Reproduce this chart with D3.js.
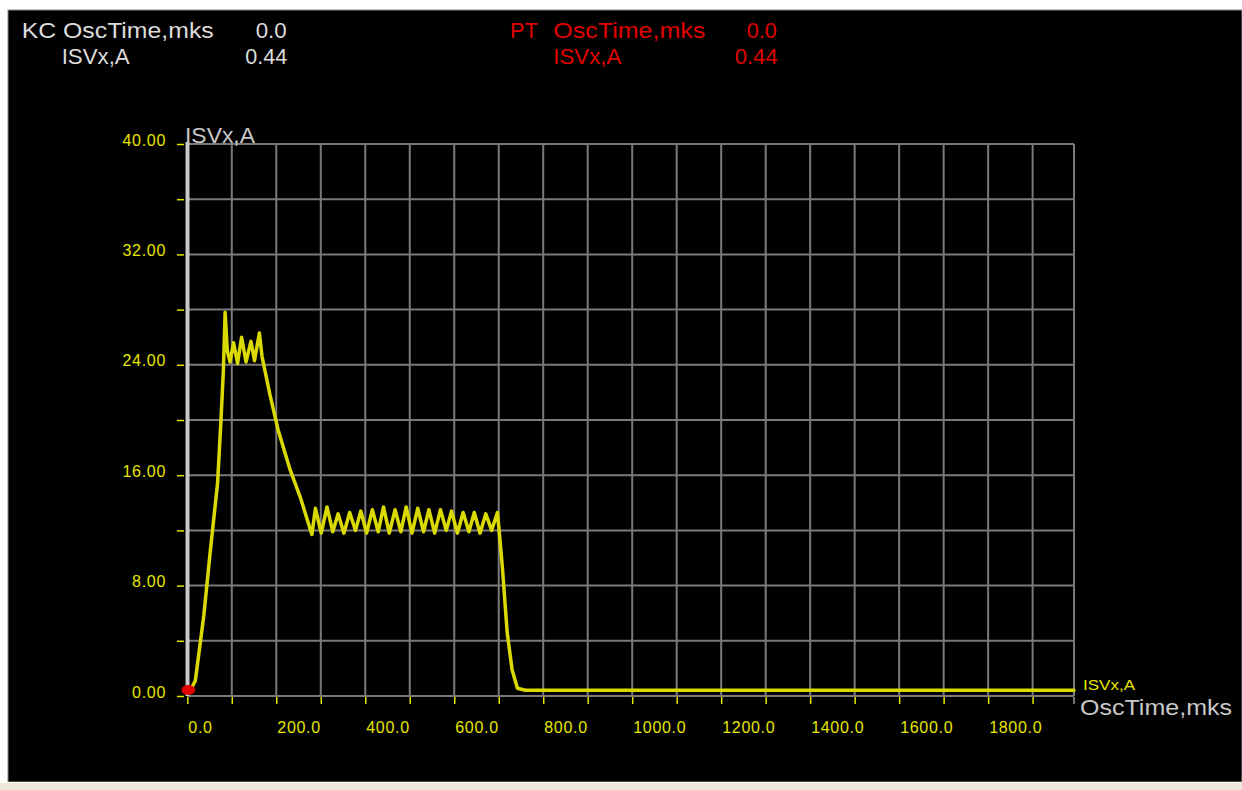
<!DOCTYPE html>
<html>
<head>
<meta charset="utf-8">
<script src="https://cdn.jsdelivr.net/npm/d3@7"></script>
<style>
  body { margin: 0; background: #fff; }
  svg { display: block; }
  .tick-lbl { font-family: "Liberation Sans", Arial, sans-serif; font-size: 16px; letter-spacing: 0.7px; fill: #e6e600; }
</style>
</head>
<body>
<div class="container"></div>
<script>
// oscillogram samples
const timeUs = [0, 8, 18, 37, 52, 68, 76, 81, 85, 90, 96, 104, 113, 122, 132, 143, 151, 162, 168,
  186, 204, 231, 254, 280,
  288, 301, 314, 327, 339, 352, 365, 378, 390, 403, 416, 429, 441, 454, 467, 480, 492, 505,
  518, 531, 543, 556, 569, 582, 594, 607, 620, 633, 645, 658, 671, 684, 697,
  700, 708, 719, 730, 742, 760, 1993];
const currentA = [0.44, 0.5, 1.1, 5.8, 10.6, 15.4, 20.2, 23.5, 27.8, 25.0, 24.2, 25.6, 24.1, 26.0, 24.2, 25.7, 24.3, 26.3, 24.6,
  21.8, 19.3, 16.4, 14.4, 11.7,
  13.6, 11.8, 13.7, 11.9, 13.2, 11.8, 13.3, 12.0, 13.4, 11.8, 13.5, 11.9, 13.7, 11.8, 13.5, 11.9, 13.7, 11.8,
  13.6, 11.9, 13.5, 11.8, 13.5, 12.0, 13.4, 11.8, 13.3, 11.9, 13.3, 11.8, 13.2, 12.0, 13.3,
  12.3, 9.4, 4.6, 1.9, 0.56, 0.42, 0.42];

const yTicks = [0, 8, 16, 24, 32, 40];
const yGrid = [4, 8, 12, 16, 20, 24, 28, 32, 36, 40];
const xTicks = [0, 100, 200, 300, 400, 500, 600, 700, 800, 900, 1000, 1100, 1200, 1300, 1400, 1500, 1600, 1700, 1800, 1900];
const xLabels = [0, 200, 400, 600, 800, 1000, 1200, 1400, 1600, 1800];
const xMax = 1993;

const cursorKC = { time: "0.0", value: "0.44" };
const cursorPT = { time: "0.0", value: "0.44" };

const W = 1242, H = 790;
const gridColor = "#7a7a7a";
const yellow = "#e6e600";
const lineYellow = "#dada00";
const font = '"Liberation Sans", Arial, sans-serif';

const svg = d3.select(".container").append("svg").attr("width", W).attr("height", H);

// window frame
svg.append("rect").attr("x", 0).attr("y", 0).attr("width", W).attr("height", H).attr("fill", "#fff");
svg.append("rect").attr("x", 8).attr("y", 10).attr("width", W - 8).attr("height", 772)
  .attr("fill", "#000").attr("stroke", "#8a8a8a").attr("stroke-width", 1);
svg.append("rect").attr("x", 0).attr("y", 782).attr("width", W).attr("height", 8).attr("fill", "#ece9d8");
svg.append("line").attr("x1", 0).attr("x2", W).attr("y1", 782.5).attr("y2", 782.5).attr("stroke", "#fbfaf5");

const x = d3.scaleLinear().domain([0, xMax]).range([187.3, 1074]);
const y = d3.scaleLinear().domain([0, 40]).range([696, 144]);

// grid
const grid = svg.append("g").attr("stroke", gridColor).attr("stroke-width", 2);
grid.selectAll("line.h").data(yGrid).enter().append("line").attr("class", "h")
  .attr("x1", x(0)).attr("x2", x(xMax)).attr("y1", d => y(d)).attr("y2", d => y(d));
grid.selectAll("line.v").data(xTicks.slice(1).concat([xMax])).enter().append("line").attr("class", "v")
  .attr("x1", d => x(d)).attr("x2", d => x(d)).attr("y1", y(40)).attr("y2", y(0));
grid.append("line").attr("x1", x(0)).attr("x2", x(xMax)).attr("y1", y(0)).attr("y2", y(0));

// y axis: ticks at grid lines, labels every 8
const yAxisTicks = svg.append("g").attr("transform", "translate(184,0)")
  .call(d3.axisLeft(y).tickValues([0].concat(yGrid)).tickSize(7).tickSizeOuter(0).tickFormat(""));
yAxisTicks.select(".domain").remove();
yAxisTicks.selectAll(".tick line").attr("stroke", yellow).attr("stroke-width", 1.5);

svg.append("g").selectAll("text").data(yTicks).enter().append("text")
  .attr("class", "tick-lbl")
  .attr("x", 166).attr("y", d => y(d) + 1.5)
  .attr("text-anchor", "end")
  .text(d => d.toFixed(2));

// x axis ticks below axis
const xAxisTicks = svg.append("g").attr("transform", "translate(0,697)")
  .call(d3.axisBottom(x).tickValues(xTicks).tickSize(7).tickSizeOuter(0).tickFormat(""));
xAxisTicks.select(".domain").remove();
xAxisTicks.selectAll(".tick line").attr("stroke", yellow).attr("stroke-width", 1.5);
svg.append("line").attr("x1", x(xMax)).attr("x2", x(xMax)).attr("y1", 697).attr("y2", 704)
  .attr("stroke", "#999").attr("stroke-width", 1.5);

svg.append("g").selectAll("text").data(xLabels).enter().append("text")
  .attr("class", "tick-lbl")
  .attr("x", d => x(d) + 1).attr("y", 732.5)
  .text(d => d.toFixed(1));

// vertical cursor bar on y axis
svg.append("line").attr("x1", 187.5).attr("x2", 187.5).attr("y1", 142).attr("y2", 696)
  .attr("stroke", "#c8c8c8").attr("stroke-width", 4);

// axis titles
svg.append("text").attr("x", 185).attr("y", 143).attr("fill", "#c8c8c8")
  .attr("font-family", font).attr("font-size", 22)
  .attr("textLength", 70).attr("lengthAdjust", "spacingAndGlyphs").text("ISVx,A");
svg.append("text").attr("x", 1080).attr("y", 715).attr("fill", "#c8c8c8")
  .attr("font-family", font).attr("font-size", 22)
  .attr("textLength", 152).attr("lengthAdjust", "spacingAndGlyphs").text("OscTime,mks");
svg.append("text").attr("x", 1083).attr("y", 690).attr("fill", yellow)
  .attr("font-family", font).attr("font-size", 14)
  .attr("textLength", 52).attr("lengthAdjust", "spacingAndGlyphs").text("ISVx,A");

// waveform
const pts = timeUs.map((t, i) => [t, currentA[i]]);
const line = d3.line().x(d => x(d[0])).y(d => y(d[1]));
svg.append("path").datum(pts).attr("d", line)
  .attr("fill", "none").attr("stroke", lineYellow).attr("stroke-width", 3.5)
  .attr("stroke-linejoin", "round").attr("stroke-linecap", "round");

// cursor marker
svg.append("ellipse").attr("cx", x(0) + 1).attr("cy", y(0.44)).attr("rx", 7).attr("ry", 5)
  .attr("fill", "#e00000");

// header readouts
const header = [
  { t: "KC OscTime,mks", x: 21.7, y: 38, len: 192, size: 22, c: "#dcdcdc", anchor: "start" },
  { t: cursorKC.time, x: 286.7, y: 38, len: 31, size: 22, c: "#dcdcdc", anchor: "end" },
  { t: "ISVx,A", x: 61.7, y: 64, len: 68, size: 22, c: "#dcdcdc", anchor: "start" },
  { t: cursorKC.value, x: 287.3, y: 64, len: 42, size: 22, c: "#dcdcdc", anchor: "end" },
  { t: "PT", x: 510, y: 38, len: 28, size: 22, c: "#e00000", anchor: "start" },
  { t: "OscTime,mks", x: 553.3, y: 38, len: 152, size: 22, c: "#e00000", anchor: "start" },
  { t: cursorPT.time, x: 776.7, y: 38, len: 30, size: 22, c: "#e00000", anchor: "end" },
  { t: "ISVx,A", x: 553.3, y: 64, len: 68, size: 22, c: "#e00000", anchor: "start" },
  { t: cursorPT.value, x: 777.7, y: 64, len: 43, size: 22, c: "#e00000", anchor: "end" }
];
svg.append("g").selectAll("text").data(header).enter().append("text")
  .attr("x", d => d.x).attr("y", d => d.y)
  .attr("text-anchor", d => d.anchor)
  .attr("fill", d => d.c)
  .attr("font-family", font).attr("font-size", d => d.size)
  .attr("textLength", d => d.len).attr("lengthAdjust", "spacingAndGlyphs")
  .text(d => d.t);
</script>
</body>
</html>
